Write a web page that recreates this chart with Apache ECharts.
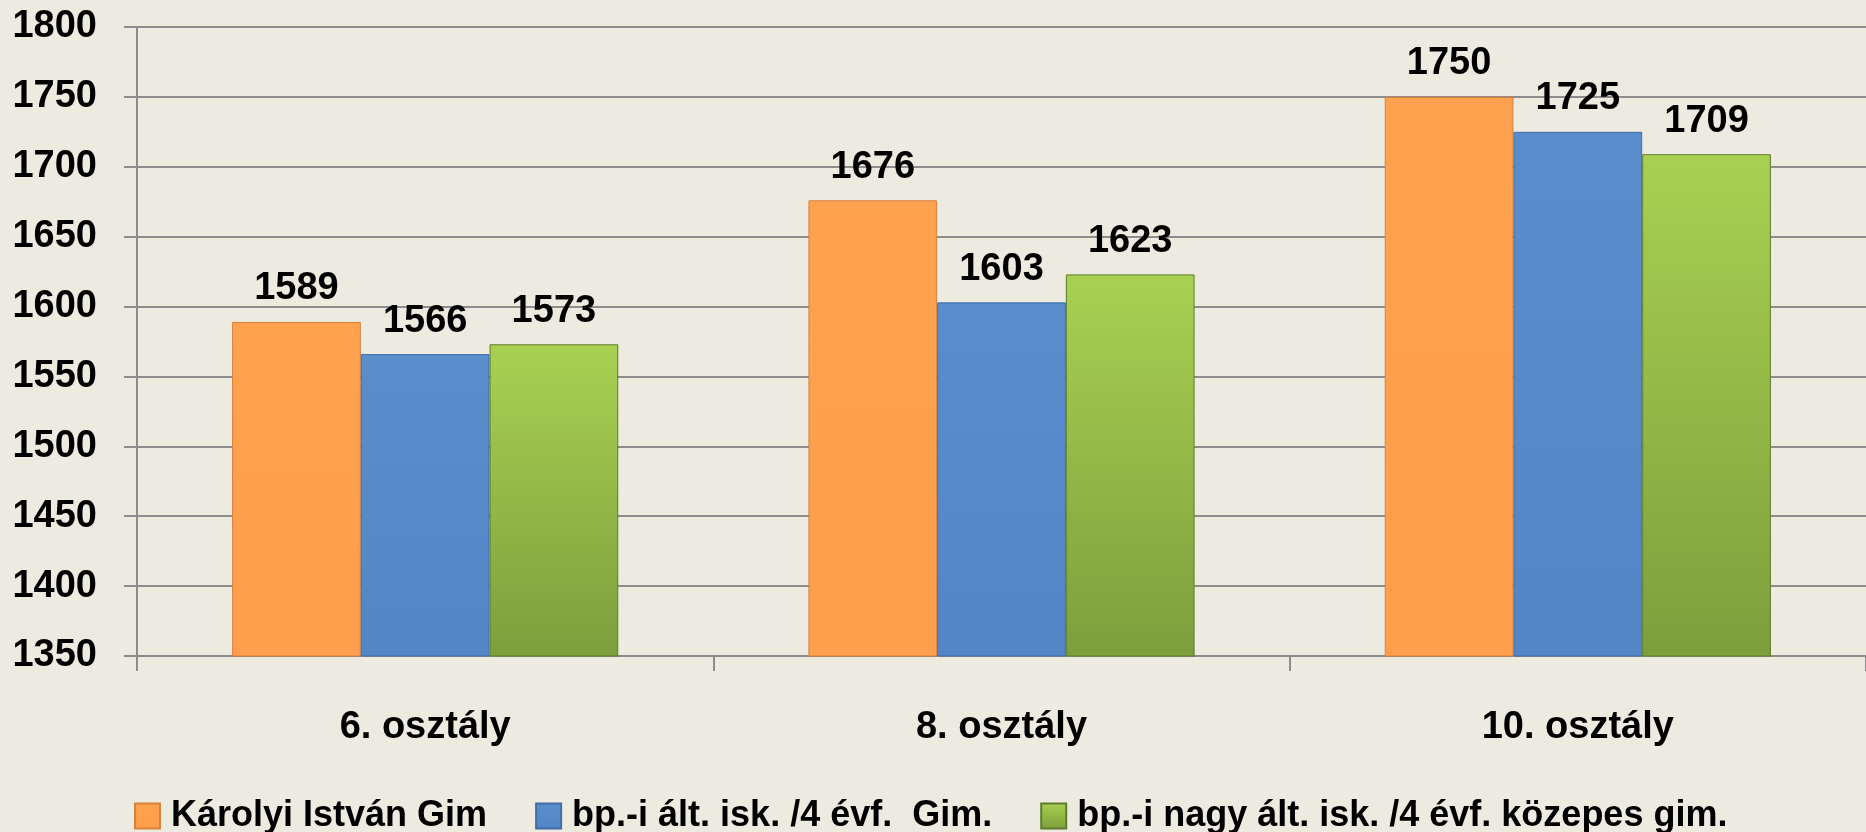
<!DOCTYPE html>
<html>
<head>
<meta charset="utf-8">
<script src="https://cdn.jsdelivr.net/npm/echarts@6/dist/echarts.min.js"></script>
<style>
    html, body { margin: 0; padding: 0; background: #EDEAE0; }
    #chart { width: 1866px; height: 832px; }
</style>
</head>
<body>
<div id="chart"></div>
<script>
var categories = ['6. osztály', '8. osztály', '10. osztály'];
var seriesNames = ['Károlyi István Gim', 'bp.-i ált. isk. /4 évf.  Gim.', 'bp.-i nagy ált. isk. /4 évf. közepes gim.'];
var karolyi = [1589, 1676, 1750];
var bpAlt = [1566, 1603, 1725];
var bpNagy = [1573, 1623, 1709];
var yTicks = { min: 1350, max: 1800, interval: 50 };

var font = 'Liberation Sans';

function grad(top, bottom) {
    return new echarts.graphic.LinearGradient(0, 0, 0, 1, [
        { offset: 0, color: top },
        { offset: 1, color: bottom }
    ]);
}

var myChart = echarts.init(document.getElementById('chart'));

function barSeries(name, data, color, border) {
    return {
        name: name,
        type: 'bar',
        barGap: '0%',
        barCategoryGap: '33%',
        itemStyle: {
            color: color,
            borderColor: border,
            borderWidth: 1
        },
        label: {
            show: true,
            position: 'top',
            distance: 14,
            color: '#000',
            fontFamily: font,
            fontWeight: 'bold',
            fontSize: 38
        },
        data: data
    };
}

var option = {
    backgroundColor: '#EDEAE0',
    animation: false,
    grid: {
        left: 137,
        top: 27,
        width: 1736,
        bottom: 176
    },
    legend: {
        left: 129,
        top: 793,
        itemWidth: 25,
        itemHeight: 25,
        itemGap: 48,
        icon: 'rect',
        textStyle: {
            color: '#000',
            fontFamily: font,
            fontWeight: 'bold',
            fontSize: 36,
            padding: [0, 0, 0, 6]
        },
        data: seriesNames
    },
    xAxis: {
        type: 'category',
        data: categories,
        axisLine: { lineStyle: { color: '#8c8c8c', width: 2 } },
        axisTick: { show: true, length: 15, lineStyle: { color: '#8c8c8c', width: 2 } },
        axisLabel: {
            margin: 53,
            color: '#000',
            fontFamily: font,
            fontWeight: 'bold',
            fontSize: 38
        }
    },
    yAxis: {
        type: 'value',
        min: yTicks.min,
        max: yTicks.max,
        interval: yTicks.interval,
        axisLine: { show: true, lineStyle: { color: '#8c8c8c', width: 2 } },
        axisTick: { show: true, length: 13, lineStyle: { color: '#8c8c8c', width: 2 } },
        splitLine: { lineStyle: { color: '#8c8c8c', width: 2 } },
        axisLabel: {
            margin: 40,
            color: '#000',
            fontFamily: font,
            fontWeight: 'bold',
            fontSize: 38,
            formatter: function (v) { return String(v); }
        }
    },
    series: [
        barSeries(seriesNames[0], karolyi, grad('#FFA24F', '#FF9E4C'), '#D9803A'),
        barSeries(seriesNames[1], bpAlt, grad('#5A8DCC', '#5386C6'), '#3F6EA8'),
        barSeries(seriesNames[2], bpNagy, grad('#A8D152', '#7E9E3C'), '#5F7A2C')
    ]
};
myChart.setOption(option);
</script>
</body>
</html>
